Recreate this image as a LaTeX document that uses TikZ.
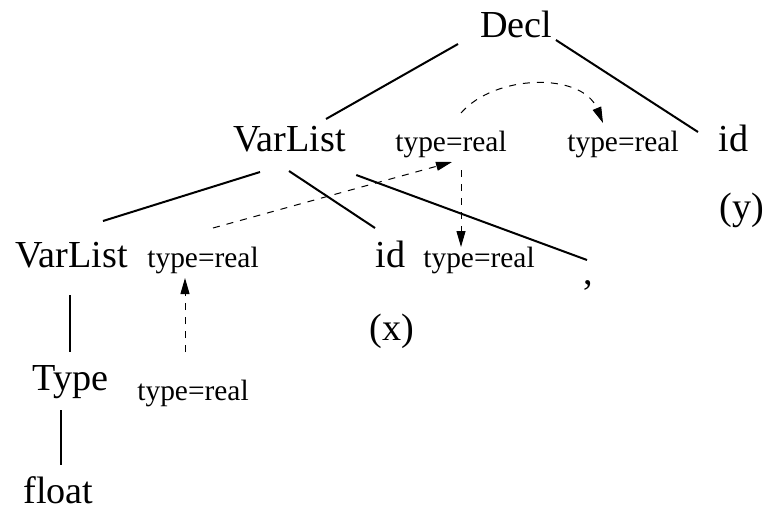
\documentclass[tikz,border=0pt]{standalone}
\usepackage{fontspec}
\setmainfont{Liberation Serif}
\usetikzlibrary{arrows.meta}
\begin{document}
\begin{tikzpicture}[x=0.5pt,y=-0.5pt,
  big/.style={anchor=base west,inner sep=0pt,font=\fontsize{19.1pt}{20pt}\selectfont},
  attr/.style={anchor=base west,inner sep=0pt,font=\fontsize{14.7pt}{16pt}\selectfont},
  tree/.style={line width=1pt},
  flow/.style={line width=0.5pt,dash pattern=on 3.5pt off 3.5pt,
    -{Triangle[length=8pt,width=4.5pt]}}]
\useasboundingbox (0,0) rectangle (765,509);

% grammar symbols
\node[big] (decl)  at (480,37)  {Decl};
\node[big] (vl1)   at (233,151) {VarList};
\node[big] (id1)   at (718,151) {id};
\node[big] (ylab)  at (719,219) {(y)};
\node[big] (vl2)   at (15,267)  {VarList};
\node[big] (id2)   at (375,267) {id};
\node[big] (comma) at (583,284) {,};
\node[big] (xlab)  at (369,340) {(x)};
\node[big] (type)  at (32,390)  {Type};
\node[big] (float) at (23,503)  {float};

% attribute values
\node[attr] (t1) at (395,151) {type=real};
\node[attr] (t2) at (567,151) {type=real};
\node[attr] (t3) at (147,267) {type=real};
\node[attr] (t4) at (423,267) {type=real};
\node[attr] (t5) at (137,400) {type=real};

% parse tree edges
\draw[tree] ([shift={(-22,7)}]decl.base west) -- ([shift={(93,-32)}]vl1.base west);
\draw[tree] ([shift={(3,3)}]decl.base east) -- ([shift={(-20,-19)}]id1.base west);
\draw[tree] ([shift={(27,21)}]vl1.base west) -- ([shift={(88,-46)}]vl2.base west);
\draw[tree] ([shift={(56,20)}]vl1.base west) -- ([shift={(0,-39)}]id2.base west);
\draw[tree] ([shift={(10,24)}]vl1.base east) -- ([shift={(4,-24)}]comma.base west);
\draw[tree] ([shift={(55,28)}]vl2.base west) -- ([shift={(38,-38)}]type.base west);
\draw[tree] ([shift={(29,20)}]type.base west) -- ([shift={(38,-38)}]float.base west);

% attribute flow
\draw[flow] ([shift={(48,-48)}]t5.base west) -- ([shift={(38,11)}]t3.base west);
\draw[flow] ([shift={(66,-39)}]t3.base west) -- ([shift={(57,11)}]t1.base west);
\draw[flow] ([shift={(66,19)}]t1.base west) -- ([shift={(38,-20)}]t4.base west);
\draw[flow] ([shift={(66,-38)}]t1.base west) .. controls (495,74) and (582,72) .. ([shift={(36,-28)}]t2.base west);
\end{tikzpicture}
\end{document}
